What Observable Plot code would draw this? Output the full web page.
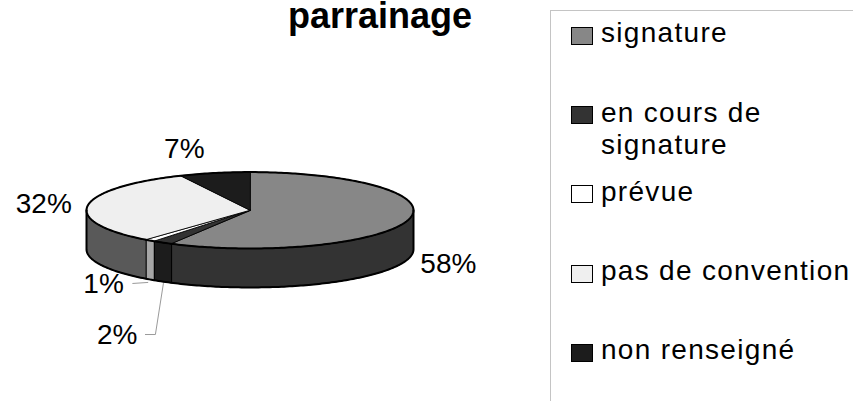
<!DOCTYPE html>
<html>
<head>
<meta charset="utf-8">
<script src="https://cdn.jsdelivr.net/npm/d3@7"></script>
<script src="https://cdn.jsdelivr.net/npm/@observablehq/plot@0.6"></script>
<style>
  html, body { margin: 0; padding: 0; background: #fff; }
  #wrap { position: relative; width: 853px; height: 401px; overflow: hidden;
          font-family: "Liberation Sans", Arial, sans-serif; color: #000; }
  #wrap svg { position: absolute; left: 0; top: 0; }
  #title { position: absolute; left: 180px; width: 400px; top: 3px; text-align: center;
           font-weight: bold; font-size: 36px; line-height: 26px; }
  #legend { position: absolute; left: 550px; top: 10px; width: 420px; height: 480px;
            border-left: 1px solid #c4c4c4; border-top: 1px solid #c4c4c4; }
  .item { position: absolute; left: 20px; }
  .sw { position: absolute; left: 0; top: 9.7px; width: 22px; height: 18px;
        box-sizing: border-box; border: 1.5px solid #000; }
  .lab { position: absolute; left: 30px; top: 0; width: 254px; font-size: 28px;
         line-height: 32px; letter-spacing: 1.3px; white-space: normal; }
</style>
</head>
<body>
<div id="wrap">
  <div id="title">parrainage</div>
  <div id="legend"></div>
</div>
<script>
// ---- data ----
const categories = ["signature", "en cours de signature", "prévue", "pas de convention", "non renseigné"];
const values = [58, 2, 1, 32, 7];
const valueLabels = ["58%", "2%", "1%", "32%", "7%"];
const topColors = ["#878787", "#333333", "#ffffff", "#efefef", "#1c1c1c"];
const sideColors = ["#333333", "#1c1c1c", "#a6a6a6", "#595959", "#0e0e0e"];

// ---- layout (pixel nudges for labels, relative to the slice's outer edge) ----
const callouts = [
  { i: 0, dx: 12, dy: 5.7, anchor: "start" },
  { i: 4, dx: -30, dy: -23.5, anchor: "middle" },
  { i: 3, dx: -16, dy: -1, anchor: "end" },
  { i: 2, dx: -26, dy: 5, anchor: "end", leader: [[-2, 3], [-17, 4]] },
  { i: 1, dx: -25, dy: 54, anchor: "end", leader: [[1, 2], [-7, 53], [-17, 53]] }
];

const xRange = [86, 413], yRange = [248, 171.6];
const depth = 1.02;               // pie thickness, in y-radius units
const ux = 2 / (xRange[1] - xRange[0]);   // data units per pixel
const uy = 2 / (yRange[0] - yRange[1]);

const total = d3.sum(values);
let acc = 0;
const slices = values.map((v, i) => {
  const a0 = acc / total * 2 * Math.PI; acc += v;
  const a1 = acc / total * 2 * Math.PI;
  return { i, a0, a1, mid: (a0 + a1) / 2 };
});

function arc(a0, a1, yOff = 0) {
  const n = Math.max(2, Math.ceil((a1 - a0) / (Math.PI / 180)));
  return d3.range(n + 1).map(k => {
    const a = a0 + (a1 - a0) * k / n;
    return [Math.sin(a), Math.cos(a) + yOff];
  });
}

const topPts = [], sidePts = [];
slices.forEach(s => {
  [[0, 0], ...arc(s.a0, s.a1)].forEach(([x, y]) => topPts.push({ id: s.i, x, y, fill: topColors[s.i] }));
  const f0 = Math.max(s.a0, Math.PI / 2), f1 = Math.min(s.a1, 3 * Math.PI / 2);
  if (f1 > f0) {
    [...arc(f0, f1), ...arc(f0, f1, -depth).reverse()]
      .forEach(([x, y]) => sidePts.push({ id: s.i, x, y, fill: sideColors[s.i] }));
  }
});

const outline = [];
arc(0, 2 * Math.PI).forEach(([x, y]) => outline.push({ id: "top", x, y }));
[[1, 0], ...arc(Math.PI / 2, 3 * Math.PI / 2, -depth), [-1, 0]]
  .forEach(([x, y]) => outline.push({ id: "front", x, y }));

function edgePoint(s) {
  const front = Math.cos(s.mid) < 0;
  return { x: Math.sin(s.mid), y: Math.cos(s.mid) - (front ? depth : 0) };
}

const labelMarks = [];
const leaderPts = [];
callouts.forEach(c => {
  const s = slices[c.i];
  const p = edgePoint(s);
  labelMarks.push(Plot.text([{ x: p.x, y: p.y, t: valueLabels[c.i] }], {
    x: "x", y: "y", text: "t", dx: c.dx, dy: c.dy, textAnchor: c.anchor,
    fontSize: 28, fontFamily: "Liberation Sans, Arial, sans-serif", fill: "#000"
  }));
  if (c.leader) {
    c.leader.forEach(([ox, oy]) => leaderPts.push({ id: c.i, x: p.x + ox * ux, y: p.y - oy * uy }));
  }
});

const chart = Plot.plot({
  width: 853, height: 401, margin: 0,
  x: { domain: [-1, 1], range: xRange, axis: null },
  y: { domain: [-1, 1], range: yRange, axis: null },
  color: { type: "identity" },
  marks: [
    Plot.line(sidePts, { x: "x", y: "y", z: "id", fill: "fill", stroke: "#000", strokeWidth: 1, curve: "linear-closed" }),
    Plot.line(topPts, { x: "x", y: "y", z: "id", fill: "fill", stroke: "#000", strokeWidth: 0.9, curve: "linear-closed" }),
    Plot.line(outline, { x: "x", y: "y", z: "id", stroke: "#000", strokeWidth: 2 }),
    Plot.line(leaderPts, { x: "x", y: "y", z: "id", stroke: "#9a9a9a", strokeWidth: 1 }),
    ...labelMarks
  ]
});
document.getElementById("wrap").prepend(chart);

// ---- legend ----
const legend = document.getElementById("legend");
categories.forEach((name, i) => {
  const item = document.createElement("div");
  item.className = "item";
  item.style.top = (6.3 + i * 79.25) + "px";
  const sw = document.createElement("div");
  sw.className = "sw";
  sw.style.background = topColors[i];
  const lab = document.createElement("div");
  lab.className = "lab";
  lab.textContent = name;
  item.appendChild(sw);
  item.appendChild(lab);
  legend.appendChild(item);
});
</script>
</body>
</html>
